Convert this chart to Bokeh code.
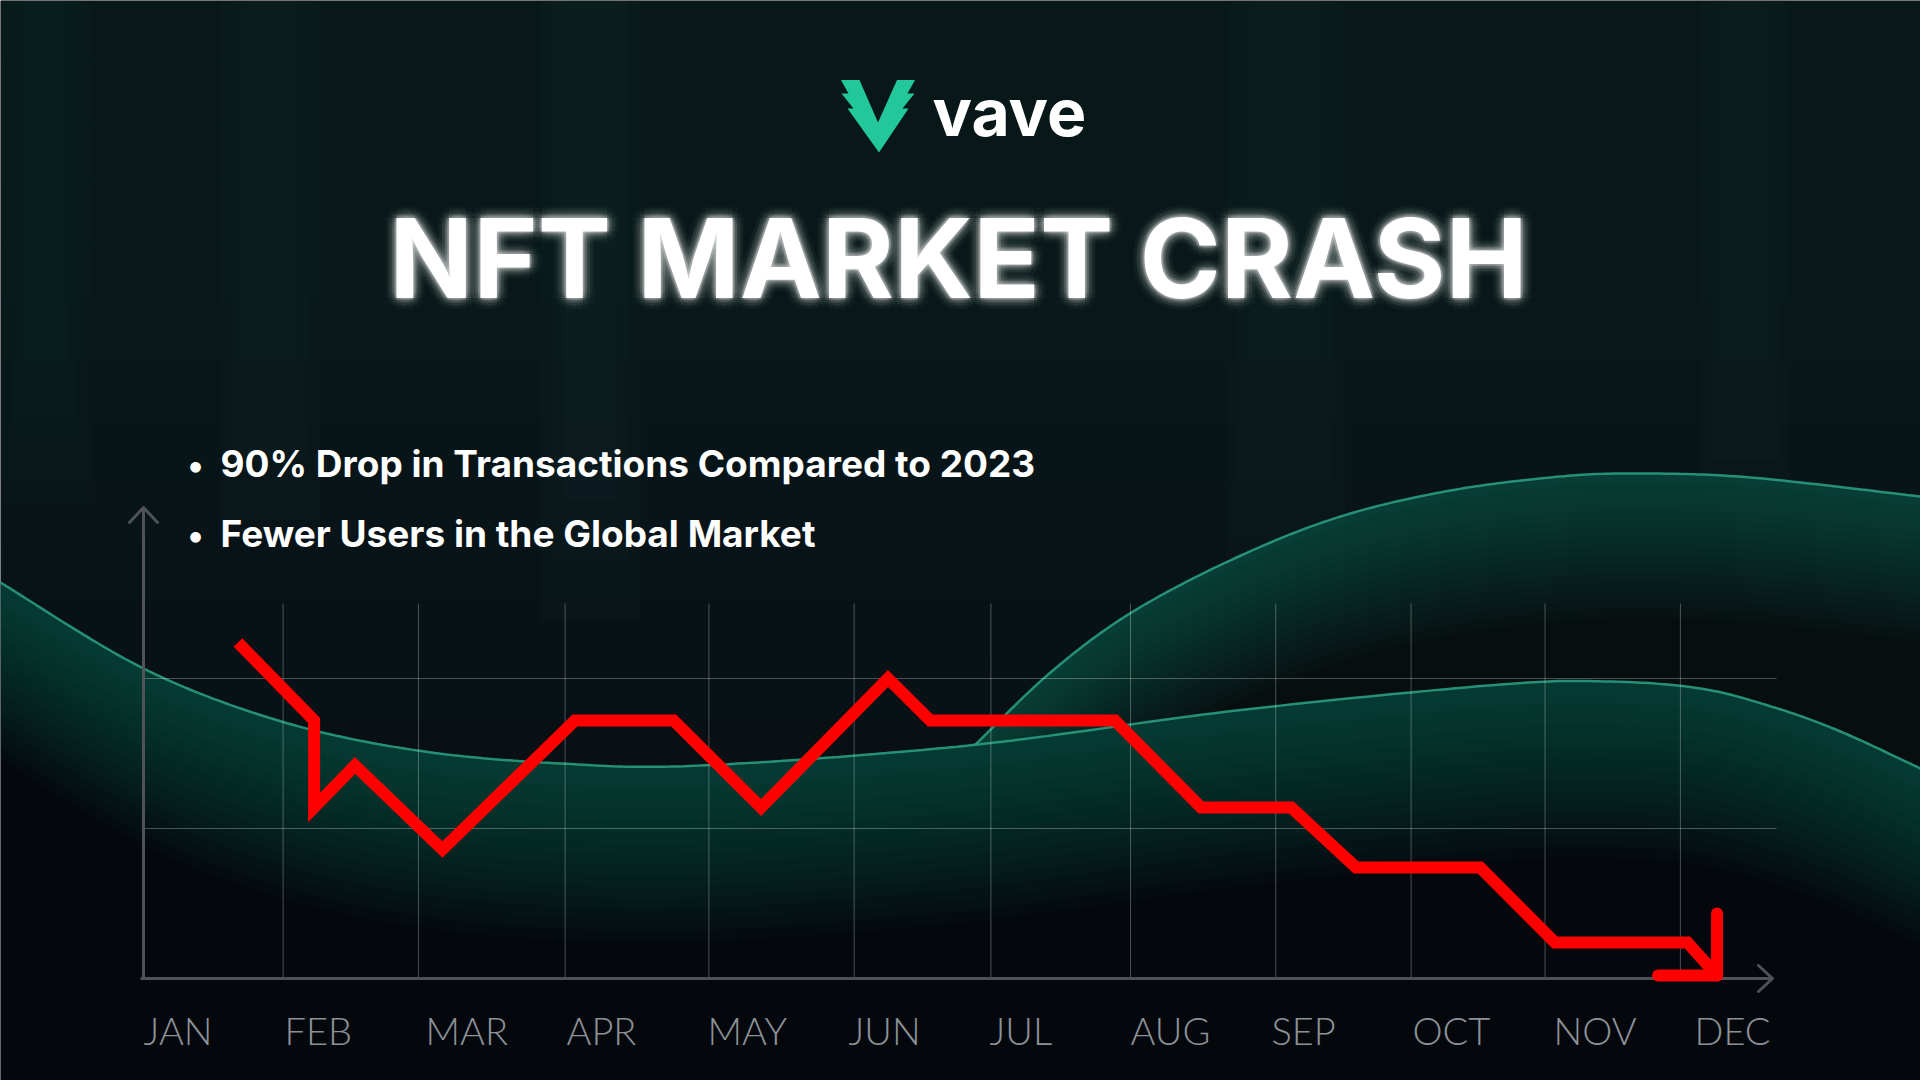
import numpy as np
from bokeh.plotting import figure
from bokeh.models import Range1d, ColumnDataSource
from bokeh.core.properties import value
from bokeh.embed import file_html
from bokeh.resources import INLINE

# ---------------- chart data ----------------
MONTHS = ["JAN", "FEB", "MAR", "APR", "MAY", "JUN", "JUL", "AUG", "SEP", "OCT", "NOV", "DEC"]
MONTH_POS = list(range(12))
# red trend line (x in month units, y in index units)
LINE_X = [0.67, 1.21, 1.21, 1.50, 2.12, 3.06, 3.76, 4.38, 5.28, 5.58, 6.89, 7.50, 8.14, 8.60, 9.48, 10.01, 10.95, 11.16]
LINE_Y = [112, 86, 57, 71, 43, 86, 86, 57, 100, 86, 86, 57, 57, 37, 37, 12, 12, 1]
GRID_X = [0.99, 1.95, 2.99, 4.01, 5.04, 6.01, 7.0, 8.03, 8.99, 9.94, 10.90]
GRID_Y = [50, 100]
TITLE = "NFT MARKET CRASH"
BRAND = "vave"
BULLETS = ["90% Drop in Transactions Compared to 2023", "Fewer Users in the Global Market"]

# ---------------- decoration (page pixel coordinates) ----------------
WAVE_A_X = [0, 143, 281, 417, 560, 700, 968, 1236, 1500, 1608, 1700, 1774, 1840, 1920]
WAVE_A_Y = [582, 668, 721, 750, 763, 765, 745, 710, 684, 681, 688, 707, 731, 768]
WAVE_B_X = [820, 900, 973, 1050, 1131, 1236, 1340, 1450, 1560, 1640, 1750, 1920]
WAVE_B_Y = [930, 818, 746, 672, 612, 557, 516, 490, 476, 473, 477, 496]
LOGO_X = [840.5, 859, 877.5, 896.5, 914.5, 907, 914, 902, 908, 878.5, 847, 853, 841, 848]
LOGO_Y = [79.5, 79.5, 122, 79.5, 79.5, 93, 93, 108, 108, 152, 108, 108, 93, 93]

# ---------------- layout ----------------
W, H = 1920, 1080
X0, DX = 143.0, 141.0   # page x of month 0, pixels per month
Y0, DY = 978.0, 3.0     # page y of value 0, pixels per value unit
BASE_SHIFT = 0.36       # baseline correction (fraction of font size)


def ix(px):
    return (px - X0) / DX


def iv(py):
    return (Y0 - py) / DY


def smooth(xs, ys, n=24):
    P = np.column_stack([xs, ys]).astype(float)
    P = np.vstack([P[0], P, P[-1]])
    out = []
    t = np.linspace(0, 1, n, endpoint=False)[:, None]
    for i in range(1, len(P) - 2):
        p0, p1, p2, p3 = P[i - 1], P[i], P[i + 1], P[i + 2]
        seg = 0.5 * ((2 * p1) + (-p0 + p2) * t + (2 * p0 - 5 * p1 + 4 * p2 - p3) * t ** 2
                     + (-p0 + 3 * p1 - 3 * p2 + p3) * t ** 3)
        out.append(seg)
    out.append(P[-2][None, :])
    R = np.vstack(out)
    return R[:, 0], R[:, 1]


BG = "#04080d"
p = figure(width=W, height=H,
           x_range=Range1d(ix(0), ix(W)), y_range=Range1d(iv(H), iv(0)),
           output_backend="svg", toolbar_location=None,
           x_axis_location=None, y_axis_location=None, min_border=0,
           background_fill_color="#081014", border_fill_color=BG, outline_line_color=None)
p.extra_x_ranges = {"px": Range1d(0, W)}
p.extra_y_ranges = {"px": Range1d(H, 0)}
p.grid.visible = False
PX = dict(x_range_name="px", y_range_name="px")

# background top haze
for k in range(12):
    p.quad(left=0, right=W, top=0, bottom=60 * (k + 1), fill_color="#15292b",
           fill_alpha=0.045, line_color=None, **PX)
# faint vertical pillars
for (l, r, b, a) in [(220, 320, 520, 0.04), (540, 640, 620, 0.05), (1225, 1345, 560, 0.04),
                     (1700, 1790, 520, 0.04), (0, 90, 500, 0.035)]:
    for j in range(3):
        p.quad(left=l + 12 * j, right=r - 12 * j, top=0, bottom=b - 60 * j, fill_color="#2a4a4a",
               fill_alpha=a, line_color=None, **PX)

# wave B (behind)
bx, by = smooth(WAVE_B_X, WAVE_B_Y)
p.varea(x=bx, y1=by, y2=H, fill_color="#070e10", fill_alpha=1.0, **PX)
for k in range(16):
    p.varea(x=bx, y1=by, y2=by + 9 * (k + 1), fill_color="#237a63", fill_alpha=0.04, **PX)
p.line(bx, by, line_color="#2a9c80", line_width=2.5, line_alpha=0.9, **PX)

# wave A (front)
ax_, ay_ = smooth(WAVE_A_X, WAVE_A_Y)
p.varea(x=ax_, y1=ay_, y2=H, fill_color=BG, fill_alpha=1.0, **PX)
for k in range(16):
    p.varea(x=ax_, y1=ay_, y2=ay_ + 11 * (k + 1), fill_color="#237a63", fill_alpha=0.04, **PX)
p.line(ax_, ay_, line_color="#2a9c80", line_width=2.5, line_alpha=0.9, **PX)

# grid lines
GRID_TOP = iv(603)
GRID_RIGHT = ix(1776)
p.segment(x0=GRID_X, y0=[0] * len(GRID_X), x1=GRID_X, y1=[GRID_TOP] * len(GRID_X),
          line_color="#ffffff", line_alpha=0.28, line_width=1)
p.segment(x0=[0] * len(GRID_Y), y0=GRID_Y, x1=[GRID_RIGHT] * len(GRID_Y), y1=GRID_Y,
          line_color="#ffffff", line_alpha=0.28, line_width=1)

# axis lines with open arrow heads
AX_COL = "#4f5358"
y_top = iv(507)
x_tip = ix(1772)
p.line([0, 0], [0, y_top], line_color=AX_COL, line_width=3)
p.line([ix(140), x_tip], [0, 0], line_color=AX_COL, line_width=3)
p.multi_line(xs=[[-14 / DX, 0, 14 / DX], [x_tip - 14 / DX, x_tip, x_tip - 14 / DX]],
             ys=[[y_top - 15 / DY, y_top, y_top - 15 / DY], [13 / DY, 0, -13 / DY]],
             line_color=AX_COL, line_width=3, line_cap="round", line_join="round")

# red trend line and its arrow head
RED = "#ff0000"
p.line(LINE_X, LINE_Y, line_color=RED, line_width=12, line_join="miter", line_cap="butt")
hx, hy = LINE_X[-1], LINE_Y[-1]
p.multi_line(xs=[[hx, hx], [hx, hx - 59 / DX]], ys=[[hy, hy + 62 / DY], [hy, hy]],
             line_color=RED, line_width=12, line_cap="round", line_join="round")

# month labels (left-aligned at each month position)
LABEL_SIZE = 38
p.text(x=MONTH_POS, y=[iv(1043 - BASE_SHIFT * LABEL_SIZE)] * len(MONTH_POS), text=MONTHS,
       text_font=value("Lato Light"), text_font_size=f"{LABEL_SIZE}px", text_color="#8d9297",
       text_align="left", text_baseline="alphabetic")

# logo
p.patch(LOGO_X, LOGO_Y, fill_color="#22c79a", line_color=None, **PX)
p.text(x=[932], y=[135 - BASE_SHIFT * 66], text=[BRAND], text_font=value("Inter"),
       text_font_style="bold", text_font_size="66px", text_color="#ffffff",
       text_align="left", text_baseline="alphabetic", **PX)

# title with a soft glow
TS = 110
TY = 297 - BASE_SHIFT * TS
ang = np.linspace(0, 2 * np.pi, 12, endpoint=False)
xo, yo, al = [], [], []
for r, a in [(2.5, 0.07), (5, 0.045), (8.5, 0.03), (12, 0.018)]:
    xo += list(r * np.cos(ang))
    yo += list(r * np.sin(ang))
    al += [a] * len(ang)
n = len(xo)
glow = ColumnDataSource(dict(x=[958] * n, y=[TY] * n, t=[TITLE] * n, xo=xo, yo=yo, a=al))
p.text(x="x", y="y", text="t", x_offset="xo", y_offset="yo", text_alpha="a", source=glow,
       text_font=value("Inter"), text_font_style="bold", text_font_size=f"{TS}px",
       text_color="#ffffff", text_align="center", text_baseline="alphabetic", **PX)
p.text(x=[958], y=[TY], text=[TITLE], text_font=value("Inter"),
       text_font_style="bold", text_font_size=f"{TS}px", text_color="#ffffff",
       text_align="center", text_baseline="alphabetic", **PX)

# bullets
BS = 37
p.text(x=[187, 187], y=[476 - BASE_SHIFT * 34, 546 - BASE_SHIFT * 34], text=["\u2022", "\u2022"],
       text_font=value("Inter"), text_font_style="bold", text_font_size="34px",
       text_color="#ffffff", text_baseline="alphabetic", **PX)
p.text(x=[220, 220], y=[476 - BASE_SHIFT * BS, 546 - BASE_SHIFT * BS], text=BULLETS,
       text_font=value("Inter"), text_font_style="bold", text_font_size=f"{BS}px",
       text_color="#ffffff", text_baseline="alphabetic", **PX)

open("out.html", "w").write(file_html(p, INLINE))
